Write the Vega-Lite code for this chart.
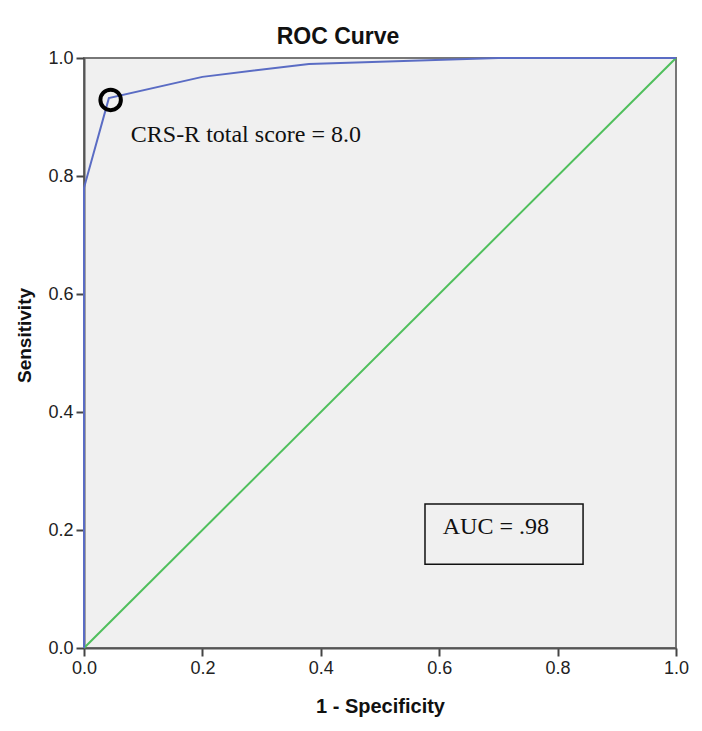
{
  "$schema": "https://vega.github.io/schema/vega-lite/v6.json",
  "width": 592,
  "height": 590,
  "autosize": {"type": "none"},
  "padding": {"left": 84, "top": 58, "right": 26, "bottom": 83},
  "background": "white",
  "title": {"text": "ROC Curve", "font": "Liberation Sans", "fontSize": 23, "fontWeight": "bold", "color": "#111", "anchor": "middle", "dx": -42, "offset": 0},
  "config": {
    "view": {"fill": "#f0f0f0", "stroke": "#777", "strokeWidth": 2},
    "axis": {
      "labelFont": "Liberation Sans", "labelFontSize": 18, "labelColor": "#222", "labelFlush": false, "labelOverlap": false,
      "titleFont": "Liberation Sans", "titleFontSize": 20, "titleFontWeight": "bold", "titleColor": "#111",
      "domainColor": "#555", "domainWidth": 2, "tickColor": "#444", "tickWidth": 2, "tickSize": 8,
      "grid": false, "labelPadding": 3
    }
  },
  "datasets": {
    "diag": [{"fpr": 0, "tpr": 0}, {"fpr": 1, "tpr": 1}],
    "roc": [
      {"fpr": 0, "tpr": 0},
      {"fpr": 0, "tpr": 0.78},
      {"fpr": 0.042, "tpr": 0.932},
      {"fpr": 0.2, "tpr": 0.968},
      {"fpr": 0.38, "tpr": 0.99},
      {"fpr": 0.7, "tpr": 1.0},
      {"fpr": 1, "tpr": 1}
    ],
    "cut": [{"fpr": 0.045, "tpr": 0.929, "label": "CRS-R total score = 8.0", "lx": 0.079, "ly": 0.869}],
    "auc": [{"x1": 0.576, "x2": 0.843, "y1": 0.142, "y2": 0.244, "label": "AUC = .98", "lx": 0.606, "ly": 0.205}]
  },
  "encoding": {
    "x": {"field": "fpr", "type": "quantitative", "scale": {"domain": [0, 1], "nice": false},
      "axis": {"title": "1 - Specificity", "values": [0, 0.2, 0.4, 0.6, 0.8, 1], "format": ".1f", "titlePadding": 19}},
    "y": {"field": "tpr", "type": "quantitative", "scale": {"domain": [0, 1], "nice": false},
      "axis": {"title": "Sensitivity", "values": [0, 0.2, 0.4, 0.6, 0.8, 1], "format": ".1f", "titlePadding": 13, "titleFontSize": 19, "titleY": 277}}
  },
  "layer": [
    {"data": {"name": "diag"}, "mark": {"type": "line", "color": "#4fbf5c", "strokeWidth": 2}},
    {"data": {"name": "roc"}, "mark": {"type": "line", "color": "#5a6cc4", "strokeWidth": 2}},
    {"data": {"name": "cut"}, "mark": {"type": "point", "shape": "circle", "filled": false, "size": 420, "stroke": "#000", "strokeWidth": 4, "opacity": 1}},
    {"data": {"name": "cut"}, "mark": {"type": "text", "font": "Liberation Serif", "fontSize": 24, "align": "left", "baseline": "middle", "color": "#111"},
      "encoding": {"x": {"field": "lx", "type": "quantitative"}, "y": {"field": "ly", "type": "quantitative"}, "text": {"field": "label"}}},
    {"data": {"name": "auc"}, "mark": {"type": "rect", "fill": null, "fillOpacity": 0, "stroke": "#111", "strokeWidth": 1.5},
      "encoding": {"x": {"field": "x1", "type": "quantitative"}, "x2": {"field": "x2"}, "y": {"field": "y1", "type": "quantitative"}, "y2": {"field": "y2"}}},
    {"data": {"name": "auc"}, "mark": {"type": "text", "font": "Liberation Serif", "fontSize": 24, "align": "left", "baseline": "middle", "color": "#111"},
      "encoding": {"x": {"field": "lx", "type": "quantitative"}, "y": {"field": "ly", "type": "quantitative"}, "text": {"field": "label"}}}
  ]
}
